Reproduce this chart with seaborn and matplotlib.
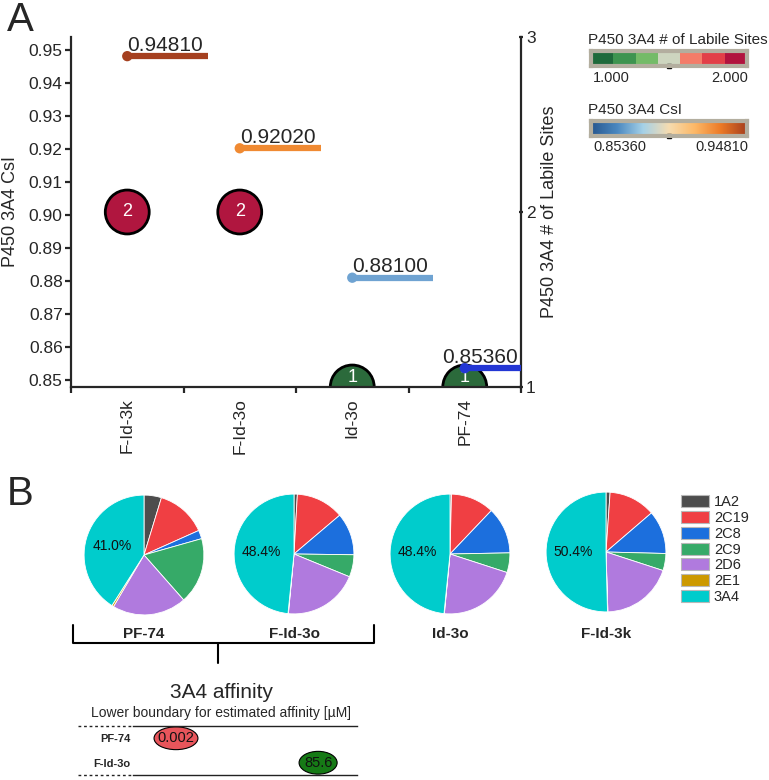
import numpy as np
import pandas as pd
import matplotlib
matplotlib.use("Agg")
import matplotlib.pyplot as plt
import seaborn as sns
from matplotlib.patches import Ellipse, Patch
from matplotlib.colors import ListedColormap, LinearSegmentedColormap
from matplotlib.lines import Line2D

sns.set_style("ticks")
plt.rcParams['font.family'] = ['Liberation Sans', 'DejaVu Sans']

# --- panel A data ---
compounds = ['F-Id-3k', 'F-Id-3o', 'Id-3o', 'PF-74']
csi = [0.94810, 0.92020, 0.88100, 0.85360]
labile_sites = [2, 2, 1, 1]
csi_colors = ['#a5401f', '#f08a32', '#6fa3d2', '#2336d4']
site_colors = {1: '#2b6a3b', 2: '#b0163f'}

# legend colour bars
site_bar_colors = ['#1f6a3b', '#3e9450', '#74bb68', '#cdd5bf', '#f47c69', '#e23f48', '#b1133e']
csi_grad = ['#27578f', '#4a88c0', '#a5d1e8', '#f6dcb0', '#fdb866', '#ec7a26', '#a63f1d']

# --- panel B data ---
isoforms = ['1A2', '2C19', '2C8', '2C9', '2D6', '2E1', '3A4']
iso_colors = ['#4d4d4d', '#f03f43', '#1c6fdd', '#36aa68', '#b07ade', '#cc9900', '#00cccc']
pie_names = ['PF-74', 'F-Id-3o', 'Id-3o', 'F-Id-3k']
pf74 = [4.7, 13.6, 2.3, 17.9, 20.0, 0.5, 41.0]
fid3o = [0.9, 12.9, 11.4, 6.0, 20.3, 0.1, 48.4]
id3o = [0.4, 11.7, 12.6, 5.3, 21.5, 0.1, 48.4]
fid3k = [1.1, 12.6, 11.7, 4.6, 19.5, 0.1, 50.4]

aff_names = ['PF-74', 'F-Id-3o']
aff_values = [0.002, 85.6]
aff_labels = ['0.002', '85.6']
aff_colors = ['#e8555b', '#167a16']

W, H = 769, 780
fig = plt.figure(figsize=(W / 100, H / 100), dpi=100)


def px(x0, y0, x1, y1):
    # pixel box -> figure fraction rect
    return [x0 / W, 1 - y1 / H, (x1 - x0) / W, (y1 - y0) / H]


# ================= panel A =================
ax1 = fig.add_axes(px(71, 37, 521, 387))
ax2 = ax1.twinx()

dfA = pd.DataFrame({'compound': compounds, 'pos': np.arange(len(compounds)),
                    'csi': csi, 'sites': labile_sites})

sns.scatterplot(data=dfA, x='pos', y='sites', hue='sites', palette=site_colors,
                s=1000, edgecolor='black', linewidth=2, legend=False, ax=ax2)
for _, r in dfA.iterrows():
    va = 'bottom' if r['sites'] == 1 else 'center'
    ax2.text(r['pos'], r['sites'] + (0.0 if va == 'center' else 0.005), str(r['sites']),
             color='white', ha='center', va=va, fontsize=13, clip_on=True)

ax1.hlines(dfA['csi'], dfA['pos'], dfA['pos'] + 0.72, colors=csi_colors, lw=4.5, zorder=2)
sns.scatterplot(data=dfA, x='pos', y='csi', hue='compound', palette=csi_colors,
                s=55, linewidth=0, legend=False, ax=ax1, zorder=3)
for _, r in dfA.iterrows():
    if r['pos'] + 0.72 > 3.5:
        ax1.text(3.47, r['csi'] + 0.0017, f"{r['csi']:.5f}", ha='right', va='baseline', fontsize=15)
    else:
        ax1.text(r['pos'], r['csi'] + 0.0017, f"{r['csi']:.5f}", ha='left', va='baseline', fontsize=15)

ax1.set_zorder(ax2.get_zorder() + 1)
ax1.patch.set_visible(False)

ax1.set_xlim(-0.5, 3.5)
ax1.set_ylim(0.8479, 0.9539)
ax1.set_yticks(np.round(np.arange(0.85, 0.951, 0.01), 2))
ax1.yaxis.set_major_formatter(matplotlib.ticker.FormatStrFormatter('%.2f'))
ax1.set_xticks(dfA['pos'])
ax1.set_xticklabels(compounds, rotation=90, fontsize=12.5)
ax1.set_xticks(np.arange(-0.5, 3.6, 1), minor=True)
ax1.tick_params(axis='x', which='major', length=0, pad=8)
ax1.tick_params(axis='x', which='minor', length=4, width=1.6, direction='out')
ax1.tick_params(axis='y', labelsize=12.5, length=4, width=1.6, pad=2)
ax1.set_xlabel('')
ax1.set_ylabel('')
for s in ['top', 'right']:
    ax1.spines[s].set_visible(False)
for s in ['left', 'bottom']:
    ax1.spines[s].set_linewidth(1.6)

ax2.set_ylim(1, 3)
ax2.set_yticks([1, 2, 3])
ax2.tick_params(axis='y', labelsize=12.5, length=3, width=1.6, direction='inout', pad=2)
ax2.set_ylabel('')
for s in ['top', 'left', 'bottom']:
    ax2.spines[s].set_visible(False)
ax2.spines['right'].set_linewidth(1.6)

fig.text(11 / W, 1 - 212 / H, 'P450 3A4 CsI', rotation=90, ha='center', va='center', fontsize=13)
fig.text(549 / W, 1 - 212 / H, 'P450 3A4 # of Labile Sites', rotation=90, ha='center', va='center', fontsize=13)
fig.text(7 / W, 1 - 1 / H, 'A', fontsize=29, va='top', ha='left')

# colour bar legends
cax1 = fig.add_axes(px(591, 51, 747, 66))
cax1.imshow([np.arange(7)], cmap=ListedColormap(site_bar_colors), aspect='auto')
cax2 = fig.add_axes(px(591, 121, 747, 136))
cax2.imshow([np.linspace(0, 1, 256)], cmap=LinearSegmentedColormap.from_list('csi', csi_grad), aspect='auto')
for cax in (cax1, cax2):
    cax.set_xticks([])
    cax.set_yticks([])
    for s in cax.spines.values():
        s.set_color('#b3ae9f')
        s.set_linewidth(3)
    cax.plot([0.5], [0.0], marker='s', ms=2.5, color='black', transform=cax.transAxes, clip_on=False)

fig.text(588 / W, 1 - 40 / H, 'P450 3A4 # of Labile Sites', fontsize=11, va='center')
fig.text(593 / W, 1 - 78 / H, '1.000', fontsize=10.5, va='center')
fig.text(748 / W, 1 - 78 / H, '2.000', fontsize=10.5, va='center', ha='right')
fig.text(588 / W, 1 - 110 / H, 'P450 3A4 CsI', fontsize=11, va='center')
fig.text(593 / W, 1 - 147 / H, '0.85360', fontsize=10.5, va='center')
fig.text(748 / W, 1 - 147 / H, '0.94810', fontsize=10.5, va='center', ha='right')

# ================= panel B =================
fig.text(7 / W, 1 - 494 / H, 'B', fontsize=29, va='center', ha='left')

pie_values = [pf74, fid3o, id3o, fid3k]
centers = [(144, 555), (294, 554), (450, 554), (606, 552)]
for name, vals, (cx, cy) in zip(pie_names, pie_values, centers):
    axp = fig.add_axes(px(cx - 60.5, cy - 60.5, cx + 60.5, cy + 60.5))
    idx = iter(range(len(vals)))
    axp.pie(vals, colors=iso_colors, startangle=90, counterclock=False,
            wedgeprops=dict(edgecolor='white', linewidth=0.6),
            autopct=lambda p, it=idx: f'{p:.1f}%' if next(it) == 6 else '',
            pctdistance=0.55, textprops=dict(fontsize=10, color='#111111'))
    axp.set_xlim(-1.01, 1.01)
    axp.set_ylim(-1.01, 1.01)
    fig.text(cx / W, 1 - 634 / H, name, ha='center', va='center', fontsize=11, fontweight='bold')

handles = [Patch(facecolor=c, edgecolor='#b8b8b8', linewidth=0.8, label=l) for c, l in zip(iso_colors, isoforms)]
fig.legend(handles=handles, loc='upper left', bbox_to_anchor=(681 / W, 1 - 495 / H),
           frameon=False, fontsize=10.5, handlelength=1.95, handleheight=0.9,
           labelspacing=0.12, handletextpad=0.3, borderaxespad=0, borderpad=0)

# bracket below first two pies
for xs, ys in [([73, 73, 374, 374], [625, 643, 643, 625]), ([218, 218], [643, 663])]:
    fig.add_artist(Line2D([x / W for x in xs], [1 - y / H for y in ys], color='black', lw=1.5,
                          transform=fig.transFigure))

fig.text(222 / W, 1 - 693 / H, '3A4 affinity', ha='center', va='center', fontsize=15)
fig.text(221 / W, 1 - 713 / H, 'Lower boundary for estimated affinity [\u00b5M]', ha='center', va='center', fontsize=10)

axA = fig.add_axes(px(133, 726, 357, 775))
xlog = np.log10(aff_values)
for i, (xv, lab, col) in enumerate(zip(xlog, aff_labels, aff_colors)):
    ew = 1.43 if len(lab) > 4 else 1.24
    axA.add_patch(Ellipse((xv, i), width=ew, height=0.93, facecolor=col, edgecolor='black', lw=0.8))
    axA.text(xv, i, lab, ha='center', va='center', fontsize=10.5, color='#111111')
axA.set_xlim(-4.1, 3.2)
axA.set_ylim(1.5, -0.5)
axA.set_xticks([])
axA.set_yticks(range(len(aff_names)))
axA.set_yticklabels(aff_names, fontsize=8, fontweight='bold')
axA.tick_params(axis='y', length=0, pad=2)
for s in ['left', 'right']:
    axA.spines[s].set_visible(False)
for s in ['top', 'bottom']:
    axA.spines[s].set_linewidth(1.0)
    axA.spines[s].set_color('#222222')
for y in (726, 775):
    fig.add_artist(Line2D([78 / W, 133 / W], [1 - y / H, 1 - y / H], color='#222222', lw=1.0,
                          linestyle=(0, (2, 2)), transform=fig.transFigure))

fig.savefig('out.png', dpi=100)
